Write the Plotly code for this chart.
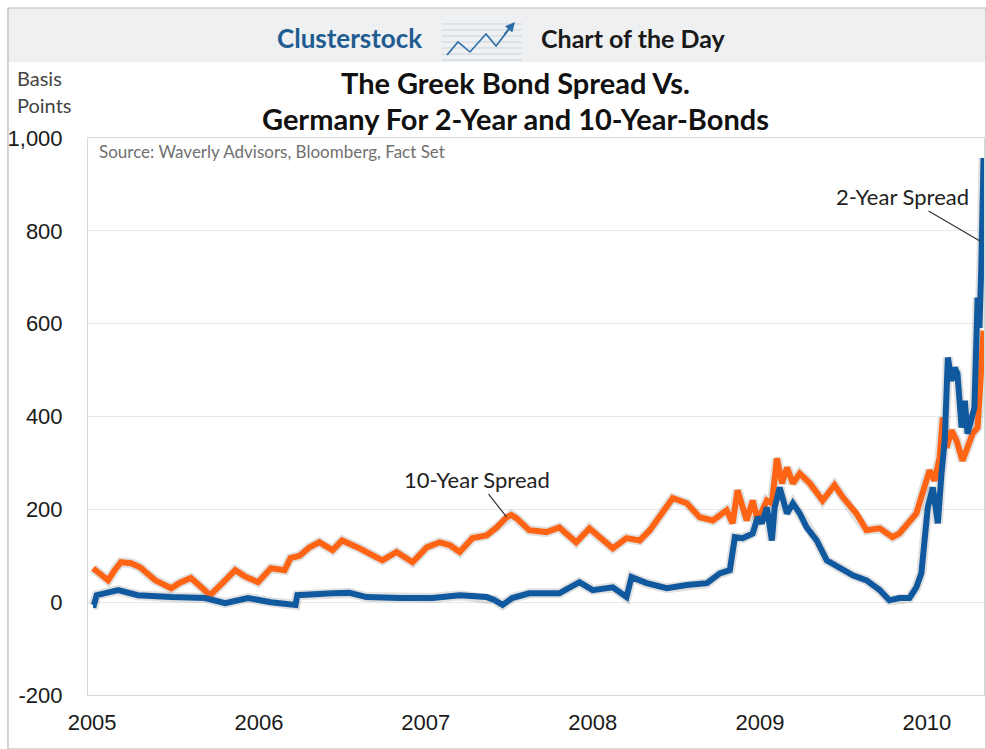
import plotly.graph_objects as go

# ---- data ----
dates_10y = [
    "2005-01-03", "2005-01-18", "2005-02-05", "2005-02-20", "2005-03-05", "2005-03-27",
    "2005-04-16", "2005-05-19", "2005-06-23", "2005-07-12", "2005-08-05", "2005-08-25",
    "2005-09-16", "2005-10-12", "2005-11-10", "2005-12-02", "2005-12-30", "2006-01-27",
    "2006-02-26", "2006-03-11", "2006-03-31", "2006-04-21", "2006-05-13", "2006-06-11",
    "2006-07-02", "2006-08-09", "2006-09-04", "2006-09-28", "2006-10-29", "2006-12-03",
    "2007-01-03", "2007-01-31", "2007-02-22", "2007-03-16", "2007-04-13", "2007-05-14",
    "2007-06-05", "2007-06-27", "2007-07-07", "2007-07-18", "2007-08-15", "2007-09-22",
    "2007-10-20", "2007-11-26", "2007-12-25", "2008-01-16", "2008-02-14", "2008-03-15",
    "2008-04-13", "2008-05-05", "2008-06-02", "2008-06-24", "2008-07-25", "2008-08-22",
    "2008-09-20", "2008-10-20", "2008-11-02", "2008-11-13", "2008-12-03", "2008-12-16",
    "2008-12-27", "2009-01-16", "2009-01-27", "2009-02-07", "2009-02-18", "2009-03-01",
    "2009-03-14", "2009-03-29", "2009-04-20", "2009-05-18", "2009-06-13", "2009-07-01",
    "2009-07-31", "2009-08-22", "2009-09-20", "2009-10-18", "2009-11-02", "2009-11-17",
    "2009-12-09", "2009-12-22", "2010-01-07", "2010-01-18", "2010-01-29", "2010-02-05",
    "2010-02-13", "2010-02-24", "2010-03-07", "2010-03-20", "2010-03-31", "2010-04-11",
    "2010-04-22", "2010-04-30", "2010-05-05",
]
spread_10y = [
    73, 62, 47, 70, 86, 84,
    75, 47, 30, 42, 52, 35,
    15, 40, 69, 55, 43, 73,
    69, 95, 100, 118, 129, 112,
    133, 116, 104, 90, 108, 86,
    118, 129, 123, 108, 138, 144,
    161, 183, 188, 181, 155, 151,
    161, 129, 159, 140, 116, 138,
    133, 155, 191, 224, 213, 183,
    176, 198, 170, 241, 176, 219,
    176, 219, 213, 310, 256, 290,
    256, 277, 256, 219, 252, 226,
    191, 155, 159, 140, 148, 165,
    191, 234, 284, 262, 312, 398,
    333, 370, 348, 305, 333, 363,
    376, 492, 585,
]

dates_2y = [
    "2005-01-03", "2005-01-05", "2005-01-11", "2005-02-09", "2005-02-27", "2005-03-14",
    "2005-04-11", "2005-06-23", "2005-09-05", "2005-10-19", "2005-12-08", "2006-01-27",
    "2006-02-26", "2006-03-11", "2006-03-22", "2006-03-26", "2006-05-09", "2006-06-11",
    "2006-07-18", "2006-08-24", "2006-11-04", "2007-01-16", "2007-03-16", "2007-05-14",
    "2007-05-31", "2007-06-18", "2007-07-09", "2007-08-15", "2007-10-20", "2007-12-03",
    "2008-01-01", "2008-02-14", "2008-03-15", "2008-03-26", "2008-04-28", "2008-06-11",
    "2008-07-25", "2008-09-07", "2008-10-05", "2008-10-27", "2008-11-07", "2008-11-24",
    "2008-12-16", "2008-12-27", "2009-01-05", "2009-01-16", "2009-01-27", "2009-02-02",
    "2009-02-13", "2009-03-01", "2009-03-14", "2009-03-29", "2009-04-13", "2009-05-05",
    "2009-05-27", "2009-06-24", "2009-07-23", "2009-08-22", "2009-09-20", "2009-10-11",
    "2009-11-02", "2009-11-24", "2009-12-09", "2009-12-20", "2009-12-27", "2010-01-03",
    "2010-01-14", "2010-01-25", "2010-02-02", "2010-02-09", "2010-02-16", "2010-02-24",
    "2010-03-03", "2010-03-09", "2010-03-18", "2010-03-25", "2010-03-31", "2010-04-09",
    "2010-04-15", "2010-04-22", "2010-04-26", "2010-04-30", "2010-05-05",
]
spread_2y = [
    -6, -6, 15, 20, 26, 22,
    15, 11, 9, -2, 9, 0,
    -2, -6, -6, 15, 19, 19,
    20, 11, 9, 9, 15, 11,
    5, -6, 9, 19, 19, 43,
    26, 32, 11, 54, 41, 30,
    37, 41, 62, 69, 140, 138,
    148, 183, 170, 204, 133, 204,
    247, 191, 213, 191, 161, 133,
    90, 73, 58, 47, 26, 4,
    9, 9, 32, 62, 133, 204,
    247, 170, 277, 348, 527, 477,
    505, 492, 376, 434, 363, 406,
    419, 656, 591, 720, 957,
]

y_ticks = [-200, 0, 200, 400, 600, 800, 1000]
y_tick_text = ["-200", "0", "200", "400", "600", "800", "1,000"]
x_ticks = ["2005-01-01", "2006-01-01", "2007-01-01", "2008-01-01", "2009-01-01", "2010-01-01"]
x_tick_text = ["2005", "2006", "2007", "2008", "2009", "2010"]

ORANGE = "#FF6414"
BLUE = "#11599E"
SHADOW = "rgba(60,60,60,0.16)"

fig = go.Figure()
fig.add_trace(go.Scatter(x=dates_10y, y=spread_10y, mode="lines",
                         line=dict(color=SHADOW, width=10), hoverinfo="skip", showlegend=False))
fig.add_trace(go.Scatter(x=dates_2y, y=spread_2y, mode="lines",
                         line=dict(color=SHADOW, width=10), hoverinfo="skip", showlegend=False))
fig.add_trace(go.Scatter(x=dates_10y, y=spread_10y, mode="lines", name="10-Year Spread",
                         line=dict(color=ORANGE, width=6), showlegend=False))
fig.add_trace(go.Scatter(x=dates_2y, y=spread_2y, mode="lines", name="2-Year Spread",
                         line=dict(color=BLUE, width=6), showlegend=False))

TXT = "Lato"
fig.update_layout(
    width=986, height=749,
    margin=dict(l=88, r=2, t=138, b=54),
    paper_bgcolor="white", plot_bgcolor="white",
    font=dict(family="Liberation Sans", color="#222222"),
)
fig.update_xaxes(
    type="date", range=["2004-12-23", "2010-05-06"],
    tickvals=x_ticks, ticktext=x_tick_text,
    tickfont=dict(family="Liberation Sans", size=22, color="#1a1a1a"),
    showgrid=False, showline=True, linecolor="#D8D8D8", linewidth=1, mirror=True,
    ticks="", ticklabelstandoff=8, zeroline=False,
)
fig.update_yaxes(
    range=[-200, 1000], tickvals=y_ticks, ticktext=y_tick_text,
    tickfont=dict(family="Liberation Sans", size=22, color="#1a1a1a"),
    showgrid=True, gridcolor="#E8E8E8", gridwidth=1,
    showline=True, linecolor="#D8D8D8", linewidth=1, mirror=True,
    ticks="", ticklabelstandoff=20, zeroline=False,
)

# header band + frame
fig.add_shape(type="rect", xref="paper", yref="paper", x0=-0.0893, x1=1.0022, y0=1.1364, y1=1.2334,
              fillcolor="#EEF0F2", line=dict(width=0), layer="below")
fig.add_shape(type="rect", xref="paper", yref="paper", x0=-0.0893, x1=1.0022, y0=-0.097, y1=1.2334,
              fillcolor="rgba(0,0,0,0)", line=dict(color="#B8B8B8", width=1.2))

# icon: horizontal lines and zigzag
for py in [24, 30, 36, 42, 48, 54, 60]:
    yp = (695 - py) / 557
    fig.add_shape(type="line", xref="paper", yref="paper", x0=0.3951, x1=0.4844, y0=yp, y1=yp,
                  line=dict(color="#C9D3DE", width=1))
fig.add_shape(type="path", xref="paper", yref="paper",
              path="M 0.4007 1.1490 L 0.4129 1.1724 L 0.4263 1.1544 L 0.4442 1.1867 L 0.4554 1.1652 L 0.4743 1.2047",
              line=dict(color="#2A6DA8", width=1.6))
fig.add_annotation(xref="paper", yref="paper", x=0.4765, y=1.2083, ax=-12, ay=14, text="",
                   showarrow=True, arrowhead=2, arrowsize=1.2, arrowwidth=1.6, arrowcolor="#2A6DA8")

C = dict(xanchor="center", yanchor="middle", showarrow=False)
fig.add_annotation(xref="paper", yref="paper", x=0.2924, y=1.1795, text="<b>Clusterstock</b>",
                   font=dict(family=TXT, size=26, color="#1F5C8F"), **C)
fig.add_annotation(xref="paper", yref="paper", x=0.6083, y=1.1795, text="<b>Chart of the Day</b>",
                   font=dict(family=TXT, size=25, color="#1a1a1a"), **C)

# title
fig.add_annotation(xref="paper", yref="paper", x=0.4766, y=1.1005, text="<b>The Greek Bond Spread Vs.</b>",
                   font=dict(family=TXT, size=29, color="#111111"), **C)
fig.add_annotation(xref="paper", yref="paper", x=0.4766, y=1.0359,
                   text="<b>Germany For 2-Year and 10-Year-Bonds</b>",
                   font=dict(family=TXT, size=29, color="#111111"), **C)

# axis unit label
L = dict(xanchor="left", yanchor="middle", showarrow=False)
fig.add_annotation(xref="paper", yref="paper", x=-0.0815, y=1.1077, text="Basis",
                   font=dict(family=TXT, size=20, color="#444444"), **L)
fig.add_annotation(xref="paper", yref="paper", x=-0.0815, y=1.0592, text="Points",
                   font=dict(family=TXT, size=20, color="#444444"), **L)

# source
fig.add_annotation(xref="paper", yref="paper", x=0.010, y=0.9749,
                   text="Source: Waverly Advisors, Bloomberg, Fact Set",
                   font=dict(family=TXT, size=17, color="#707070"), **L)

# series callouts
fig.add_annotation(x="2007-06-27", y=183, text="10-Year Spread", ax=-30, ay=-38,
                   showarrow=True, arrowhead=0, arrowwidth=1.2, arrowcolor="#333333",
                   font=dict(family=TXT, size=22, color="#222222"))
fig.add_annotation(x="2010-04-27", y=778, text="2-Year Spread", ax=-77, ay=-45,
                   showarrow=True, arrowhead=0, arrowwidth=1.2, arrowcolor="#333333",
                   font=dict(family=TXT, size=22, color="#222222"))

fig.write_html("out.html", config={"displayModeBar": False},
               post_script="document.body.style.margin='0';document.body.style.overflow='hidden';")
